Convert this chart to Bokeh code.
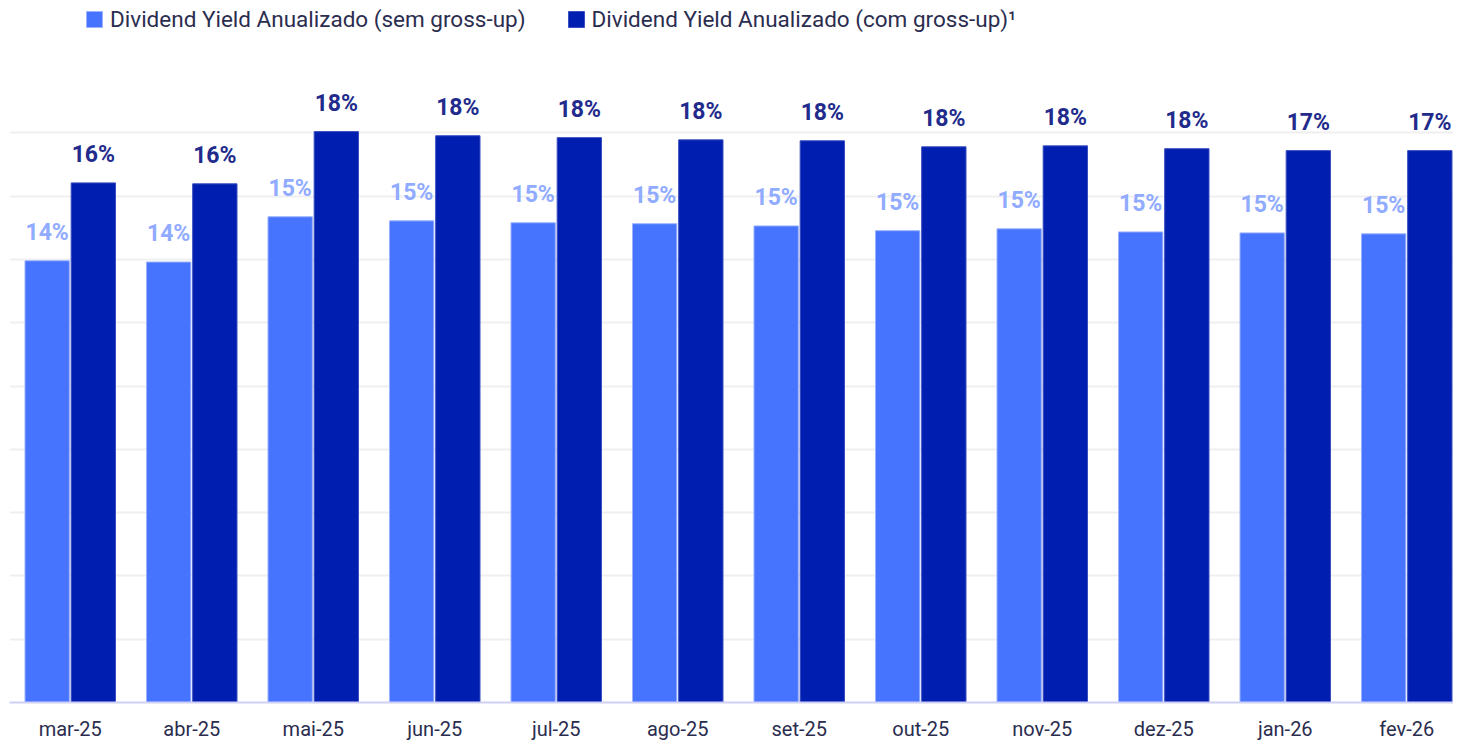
from bokeh.plotting import figure
from bokeh.models import ColumnDataSource, Range1d, FixedTicker, Legend, LegendItem
from bokeh.transform import dodge
from bokeh.core.properties import value
from bokeh.embed import file_html
from bokeh.resources import INLINE

months = ["mar-25", "abr-25", "mai-25", "jun-25", "jul-25", "ago-25",
          "set-25", "out-25", "nov-25", "dez-25", "jan-26", "fev-26"]
sem_gross = [13.96, 13.92, 15.35, 15.22, 15.16, 15.13, 15.06, 14.91, 14.97, 14.87, 14.84, 14.81]
com_gross = [16.42, 16.39, 18.04, 17.91, 17.85, 17.78, 17.75, 17.56, 17.59, 17.50, 17.44, 17.44]
sem_labels = ["14%", "14%", "15%", "15%", "15%", "15%", "15%", "15%", "15%", "15%", "15%", "15%"]
com_labels = ["16%", "16%", "18%", "18%", "18%", "18%", "18%", "18%", "18%", "18%", "17%", "17%"]
grid_ticks = [2, 4, 6, 8, 10, 12, 14, 16, 18]

LIGHT = "#4774FF"
DARK = "#001EAF"
LIGHT_TXT = "#90ABFF"
DARK_TXT = "#222B8C"
AXIS_TXT = "#2B2D4F"
FONT = "Roboto"

# category slot centres (0.5, 1.5, ...) on a numeric axis
xpos = [i + 0.5 for i in range(len(months))]

src = ColumnDataSource(dict(x=xpos, month=months, sem=sem_gross, com=com_gross,
                            sem_lab=sem_labels, com_lab=com_labels))

p = figure(width=1453, height=743, output_backend="svg", toolbar_location=None,
           x_range=Range1d(0, 1444 / 121.5),
           y_range=Range1d(0, 701 / 31.6),
           min_border_left=9, min_border_right=0, min_border_top=0, min_border_bottom=40)
p.outline_line_color = None
p.background_fill_color = "white"
p.border_fill_color = "white"

r1 = p.vbar(x=dodge("x", -0.19), top="sem", width=0.365, source=src,
            fill_color=LIGHT, line_color="#9DB3FF", line_width=1)
r2 = p.vbar(x=dodge("x", 0.19), top="com", width=0.365, source=src,
            fill_color=DARK, line_color="#3A4FC0", line_width=1)

p.text(x=dodge("x", -0.19), y="sem", text="sem_lab", source=src,
       text_align="center", text_baseline="bottom", y_offset=-15,
       text_font=value(FONT), text_font_style="bold", text_font_size="23px",
       text_color=LIGHT_TXT)
p.text(x=dodge("x", 0.19), y="com", text="com_lab", source=src,
       text_align="center", text_baseline="bottom", y_offset=-15,
       text_font=value(FONT), text_font_style="bold", text_font_size="23px",
       text_color=DARK_TXT)

p.yaxis.visible = False
p.ygrid.ticker = FixedTicker(ticks=grid_ticks)
p.ygrid.grid_line_color = "#EFEFEF"
p.ygrid.grid_line_width = 2
p.xgrid.grid_line_color = None

p.xaxis.ticker = FixedTicker(ticks=xpos)
p.xaxis.major_label_overrides = {x: m for x, m in zip(xpos, months)}
p.xaxis.axis_line_color = "#D0D0F5"
p.xaxis.axis_line_width = 2
p.xaxis.major_tick_line_color = None
p.xaxis.minor_tick_line_color = None
p.xaxis.major_tick_out = 0
p.xaxis.major_tick_in = 0
p.xaxis.major_label_standoff = 14
p.xaxis.major_label_text_font = FONT
p.xaxis.major_label_text_font_size = "20px"
p.xaxis.major_label_text_color = AXIS_TXT

legend = Legend(items=[LegendItem(label="Dividend Yield Anualizado (sem gross-up)", renderers=[r1]),
                       LegendItem(label="Dividend Yield Anualizado (com gross-up)\u00b9", renderers=[r2])],
                orientation="horizontal", location=(75, 670),
                label_text_font=FONT, label_text_font_size="22.5px", label_text_color=AXIS_TXT,
                glyph_width=20, glyph_height=20, label_standoff=6, spacing=40,
                padding=0, margin=0, border_line_color=None, background_fill_alpha=0)
p.add_layout(legend)

open("out.html", "w").write(file_html(p, INLINE))
